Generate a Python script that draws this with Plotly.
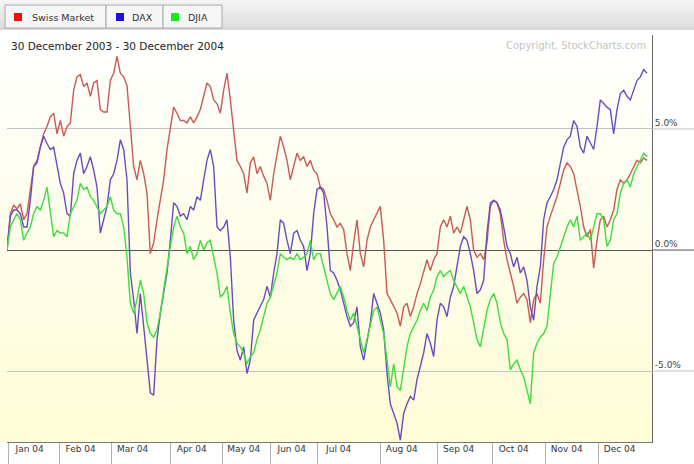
import plotly.graph_objects as go

# ---------------- data (percent change since 30 Dec 2003, sampled along the trading-day axis) ----------------
SWISS_MARKET = [
    0.0, 1.5, 1.85, 1.7, 1.9, 1.25, 1.5, 2.5, 3.45, 3.7,
    4.25, 4.8, 5.1, 5.5, 5.65, 4.8, 5.35, 4.7, 5.1, 5.25,
    6.6, 7.15, 7.25, 6.75, 6.9, 6.35, 6.9, 7.0, 5.8, 5.7,
    5.7, 7.0, 7.3, 8.0, 7.3, 7.15, 6.8, 4.95, 3.45, 2.9,
    3.7, 3.15, 2.35, -0.15, 0.3, 1.25, 2.05, 2.9, 4.15, 5.1,
    5.9, 5.65, 5.35, 5.35, 5.25, 5.5, 5.25, 5.5, 5.8, 6.35,
    6.9, 6.75, 6.2, 6.05, 5.65, 6.6, 7.3, 6.2, 4.8, 3.7,
    3.45, 3.15, 2.35, 3.6, 3.85, 3.15, 3.45, 3.05, 2.75, 2.05,
    3.15, 4.0, 4.7, 4.25, 3.7, 2.9, 3.45, 4.0, 3.7, 3.85,
    3.45, 3.7, 3.3, 3.15, 2.6, 2.5, 2.05,
    1.5, 1.25, 0.95, 1.1, 0.85, -0.15, -0.85, 0.3, 1.25, -0.15,
    -0.7, 0.4, 0.95, 1.25, 1.5, 1.8, 0.4, -1.8, -2.05, -2.35,
    -2.6, -3.15, -2.35, -2.2, -2.75, -2.35, -1.8, -1.4, -0.95, -0.4,
    -0.85, -0.4, -0.15, 0.95, 1.25, 0.95, 1.4, 0.7, 0.95, 0.7,
    1.25, 1.8, 1.25, 0.0, -0.3, -0.15, -0.4, 0.3, 1.8, 2.05,
    1.95, 1.5, 0.4, -0.4, -0.95, -1.5, -2.2, -1.95, -1.8, -2.05,
    -3.0, -2.05, -1.8, -2.2, -0.4, 0.95, 1.4, 1.8, 2.2, 2.75,
    3.3, 3.6, 3.45, 3.15, 2.5, 1.8, 0.95, 0.55, 0.85, -0.75,
    0.4, 1.25, 1.4, 0.95, 1.25, 1.65, 2.5, 2.9, 2.75, 2.9,
    3.15, 3.45, 3.7, 3.6, 3.8, 3.7,
]

DAX = [
    0.0, 1.4, 1.65, 1.65, 1.5, 0.95, 0.95, 2.05, 3.45, 3.6,
    4.25, 4.7, 4.4, 4.15, 4.25, 3.45, 2.75, 2.35, 1.5, 1.4,
    3.15, 3.7, 4.0, 3.15, 3.45, 3.85, 3.3, 2.6, 0.7, 1.25,
    1.8, 2.9, 3.15, 3.7, 4.55, 4.15, 2.9, -0.95, -2.05, -3.45,
    -1.8, -3.15, -4.4, -5.9, -6.0, -3.7, -2.6, -1.8, -0.95, 0.4,
    1.95, 1.8, 1.4, 1.5, 1.25, 1.8, 1.65, 2.2, 2.05, 2.9,
    3.7, 4.15, 3.45, 0.95, 0.8, 0.95, 1.25, -0.3, -2.9, -4.15,
    -4.55, -4.0, -5.1, -4.55, -2.9, -2.6, -2.35, -2.05, -1.5, -1.95,
    -0.95, -0.15, 1.25, 1.1, 0.4, -0.15, 0.7, 0.8, 0.4, 0.15,
    -0.85, -0.15, 1.5, 2.5, 2.6, 2.35, 0.95,
    -0.85, -0.95, -1.25, -1.65, -2.2, -2.75, -3.15, -3.0, -2.35, -4.0,
    -4.55, -3.7, -3.0, -1.8, -2.2, -2.6, -3.3, -5.1, -6.35, -6.75,
    -7.15, -7.85, -6.75, -6.35, -6.05, -6.2, -5.35, -4.8, -4.25, -3.45,
    -3.85, -4.4, -2.9, -2.2, -2.35, -2.75, -1.95, -1.5, -0.7, 0.15,
    0.55, 0.4, -0.15, -0.85, -1.8, -1.65, -1.25, 0.7, 1.95, 2.05,
    1.95, 1.65, 0.95, 0.15, -0.15, -0.7, -0.3, -0.95, -0.7, -1.25,
    -2.35, -2.9, -1.5, -0.7, 1.25, 1.95, 2.2, 2.5, 2.9, 3.6,
    4.25, 4.55, 4.7, 5.35, 5.1, 4.25, 4.0, 4.7, 4.4, 4.15,
    5.1, 6.2, 6.05, 5.9, 5.8, 4.8, 5.8, 6.45, 6.6, 6.35,
    6.2, 6.6, 7.0, 7.15, 7.45, 7.3,
]

DJIA = [
    0.0, 0.95, 1.25, 1.5, 1.25, 0.4, 0.7, 0.95, 1.5, 1.8,
    1.65, 2.05, 2.6, 1.5, 0.55, 0.8, 0.7, 0.7, 0.55, 1.5,
    1.8, 2.05, 2.75, 2.5, 2.6, 2.2, 2.05, 1.8, 1.5, 1.65,
    1.8, 2.2, 1.65, 1.5, 1.5, 0.95, -0.3, -2.2, -2.6, -2.05,
    -1.25, -1.8, -3.0, -3.45, -3.6, -3.3, -2.6, -1.65, -0.7, 0.15,
    0.95, 1.4, 0.95, 0.7, -0.15, 0.15, -0.4, -0.15, 0.4, 0.0,
    0.3, 0.4, -0.3, -0.95, -1.95, -1.8, -1.5, -2.6, -3.45, -3.85,
    -4.0, -4.25, -4.7, -4.4, -4.25, -3.7, -3.3, -2.75, -2.2, -1.95,
    -1.5, -0.95, -0.15, -0.3, -0.4, -0.3, -0.4, -0.15, -0.4, -0.3,
    -0.15, 0.4, -0.4, -0.15, -0.15, -0.7, -1.25,
    -1.8, -2.05, -1.8, -1.5, -1.95, -2.5, -2.9, -2.6, -3.15, -3.7,
    -4.25, -3.7, -3.15, -2.5, -2.35, -2.9, -3.45, -4.55, -5.65, -4.7,
    -5.65, -5.8, -4.8, -4.0, -3.45, -3.15, -2.9, -2.5, -2.2, -2.5,
    -1.95, -1.65, -1.1, -0.85, -1.1, -0.95, -0.85, -1.25, -1.5, -1.8,
    -1.5, -1.95, -2.35, -3.0, -3.7, -4.0, -3.3, -2.5, -2.05, -1.8,
    -2.2, -3.0, -3.45, -3.7, -4.95, -4.7, -4.55, -4.95, -5.25, -5.8,
    -6.35, -4.25, -3.85, -3.6, -3.45, -3.15, -1.95, -0.55, -0.3, 0.15,
    0.55, 0.95, 1.25, 0.95, 1.4, 0.4, 0.55, 0.7, 0.4, 0.95,
    1.5, 1.5, 1.25, 0.15, 0.4, 1.25, 1.5, 2.35, 2.75, 2.9,
    2.6, 3.15, 3.45, 3.7, 4.0, 3.85,
]

SAMPLE_INDEX = list(range(len(SWISS_MARKET)))

MONTH_LABELS = ["Jan 04", "Feb 04", "Mar 04", "Apr 04", "May 04", "Jun 04",
                "Jul 04", "Aug 04", "Sep 04", "Oct 04", "Nov 04", "Dec 04"]
MONTH_STARTS = [0.4, 15.7, 31.3, 49.0, 64.6, 79.0, 93.1, 112.0, 129.1, 145.6, 161.5, 177.4]

Y_TICKS = [-5, 0, 5]
Y_TICK_TEXT = ["-5.0%", "0.0%", "5.0%"]

SERIES_NAMES = ["Swiss Market", "DAX", "DJIA"]

# ---------------- styling ----------------
W, H = 694, 464
ML, MR, MT, MB = 7, 42, 35, 22
PW, PH = W - ML - MR, H - MT - MB
FONT = "DejaVu Sans"

LINE_COLORS = ["#c85a58", "#6a4cc0", "#3fdc3f"]
KEY_COLORS = ["#ee1111", "#2211cc", "#11ee11"]


def px_x(p):
    return (p - ML) / PW


def px_y(p):
    return (H - MB - p) / PH


fig = go.Figure()
for name, vals, col in zip(SERIES_NAMES, [SWISS_MARKET, DAX, DJIA], LINE_COLORS):
    fig.add_trace(go.Scatter(x=SAMPLE_INDEX, y=vals, mode="lines", name=name,
                             line=dict(color=col, width=1.4), showlegend=False))

# invisible helper trace so the label axis is drawn
fig.add_trace(go.Scatter(x=[MONTH_STARTS[0]], y=[0], xaxis="x2", mode="markers",
                         marker=dict(opacity=0), showlegend=False, hoverinfo="skip"))

shapes = []
# plot background: white to pale yellow gradient
N = 60
top, bot = 35, 442
for i in range(N):
    t = (i + 0.5) / N
    r = round(255 - 3 * t)
    g = round(255 - 3 * t)
    b = round(255 - 42 * t)
    y0 = top + (bot - top) * i / N
    y1 = top + (bot - top) * (i + 1) / N + 0.5
    shapes.append(dict(type="rect", xref="paper", yref="paper", layer="below",
                       x0=px_x(0), x1=1, y0=px_y(y1), y1=px_y(y0),
                       line=dict(width=0), fillcolor=f"rgb({r},{g},{b})"))

# header bar
NH = 10
for i in range(NH):
    t = i / (NH - 1)
    c = round(244 - 22 * t)
    y0 = 0 + 29 * i / NH
    y1 = 29 * (i + 1) / NH + 0.5
    shapes.append(dict(type="rect", xref="paper", yref="paper", layer="below",
                       x0=px_x(0), x1=px_x(W), y0=px_y(y1), y1=px_y(y0),
                       line=dict(width=0), fillcolor=f"rgb({c},{c},{c})"))
shapes.append(dict(type="line", xref="paper", yref="paper", x0=px_x(0), x1=px_x(W),
                   y0=px_y(29), y1=px_y(29), line=dict(color="#c8c8c8", width=1)))

# legend tabs
tabs = [(5, 106), (106, 163), (163, 222)]
for (a, b_) in tabs:
    shapes.append(dict(type="rect", xref="paper", yref="paper",
                       x0=px_x(a), x1=px_x(b_), y0=px_y(28), y1=px_y(5),
                       line=dict(color="#a8a8a8", width=1), fillcolor="#f6f6f6"))
key_x = [14, 116, 171]
text_x = [30, 130, 186]
for kx, col in zip(key_x, KEY_COLORS):
    shapes.append(dict(type="rect", xref="paper", yref="paper",
                       x0=px_x(kx), x1=px_x(kx + 8), y0=px_y(21), y1=px_y(13),
                       line=dict(width=0), fillcolor=col))

# grid lines continue past the right axis to the edge
for v in Y_TICKS:
    shapes.append(dict(type="line", xref="paper", yref="y", x0=1, x1=px_x(W), y0=v, y1=v,
                       line=dict(color="#555" if v == 0 else "#c4c4c4", width=1)))

annotations = []
for tx, name in zip(text_x, SERIES_NAMES):
    annotations.append(dict(text=name, xref="paper", yref="paper", x=px_x(tx), y=px_y(17.5),
                            xanchor="left", yanchor="middle", showarrow=False,
                            font=dict(family=FONT, size=9.5, color="#333")))
annotations.append(dict(text="30 December 2003 - 30 December 2004", xref="paper", yref="paper",
                        x=px_x(9), y=px_y(45.5), xanchor="left", yanchor="middle", showarrow=False,
                        font=dict(family=FONT, size=10.5, color="#222")))
annotations.append(dict(text="Copyright, StockCharts.com", xref="paper", yref="paper",
                        x=px_x(648), y=px_y(46), xanchor="right", yanchor="middle", showarrow=False,
                        font=dict(family=FONT, size=10, color="#c4c4c4")))

fig.update_layout(
    width=W, height=H,
    margin=dict(l=ML, r=MR, t=MT, b=MB, pad=0, autoexpand=False),
    paper_bgcolor="white", plot_bgcolor="rgba(0,0,0,0)",
    showlegend=False,
    shapes=shapes, annotations=annotations,
    xaxis=dict(range=[0, 193.5], tickvals=MONTH_STARTS, showticklabels=False,
               ticks="outside", ticklen=22, tickcolor="#b0b0b0", tickwidth=1,
               showgrid=False, zeroline=False, showline=True, linecolor="#777", linewidth=1,
               automargin=False, fixedrange=True),
    xaxis2=dict(overlaying="x", matches="x", anchor="y", side="bottom",
                tickvals=[m + 6.4 for m in MONTH_STARTS], ticktext=MONTH_LABELS,
                ticks="", showgrid=False, zeroline=False, showline=False, automargin=False,
                tickfont=dict(family=FONT, size=9, color="#333")),
    yaxis=dict(range=[-7.93, 8.88], side="right", tickvals=Y_TICKS, ticktext=Y_TICK_TEXT,
               ticklabelposition="outside top", ticks="", automargin=False,
               tickfont=dict(family=FONT, size=9, color="#444"),
               showgrid=True, gridcolor="#c4c4c4", gridwidth=1,
               zeroline=True, zerolinecolor="#555", zerolinewidth=1,
               showline=True, linecolor="#666", linewidth=1, mirror=False),
)

fig.write_html("out.html", config={"displayModeBar": False},
               post_script="document.body.style.margin='0';document.body.style.padding='0';")
